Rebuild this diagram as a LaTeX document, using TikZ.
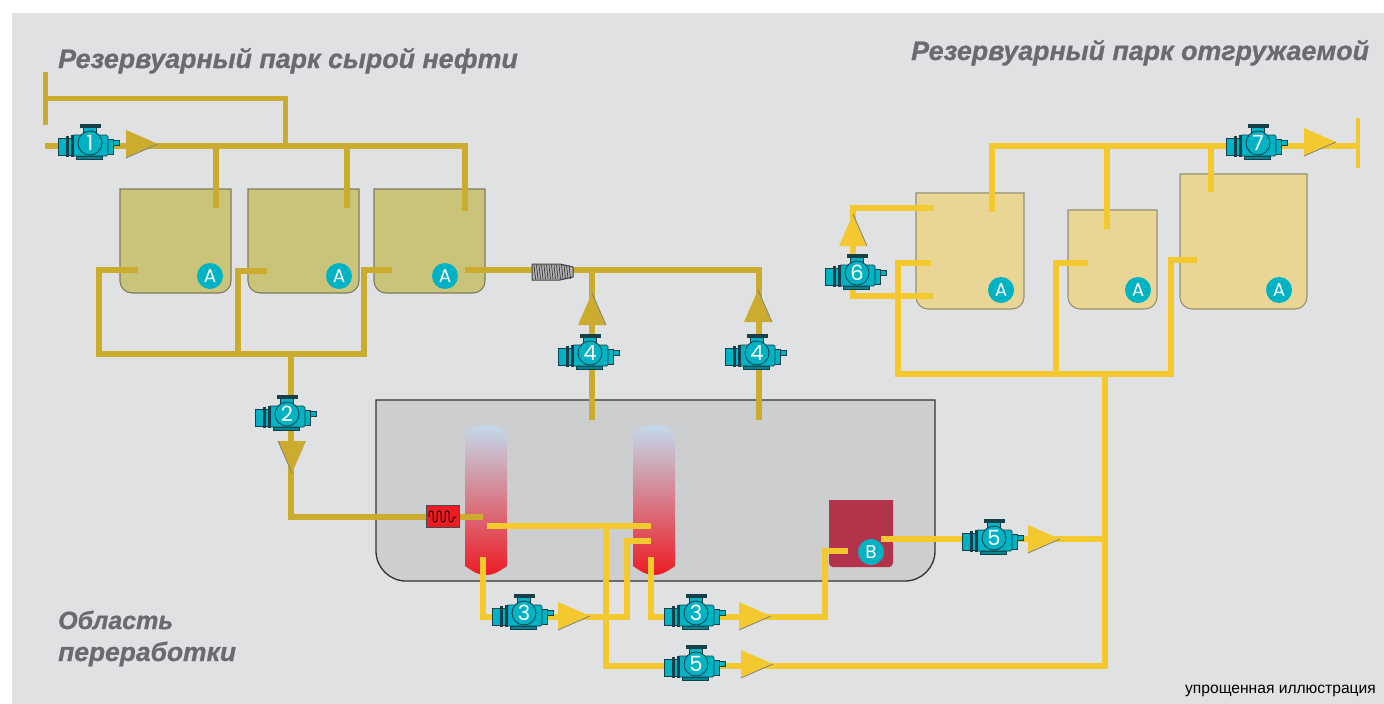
\documentclass[tikz,border=0pt]{standalone}
\usepackage{fontspec}
\setmainfont{Liberation Sans}
\newfontfamily\tagfont{Poppins}
\newfontfamily\titlefont[FakeBold=0.8]{Liberation Sans Bold Italic}
\usetikzlibrary{calc}
\definecolor{crude}{HTML}{CBAC2E}
\definecolor{product}{HTML}{F3C92F}
\definecolor{pumpfill}{HTML}{00B3C4}
\definecolor{pumpline}{HTML}{173F49}
\definecolor{titlegray}{HTML}{696B6E}
\definecolor{panel}{HTML}{E0E1E3}
\definecolor{unitfill}{HTML}{CDCED0}
\definecolor{crudefill}{HTML}{C9C47A}
\definecolor{crudeedge}{HTML}{7F7B60}
\definecolor{prodfill}{HTML}{E9D694}
\definecolor{prodedge}{HTML}{96906E}
\definecolor{residue}{HTML}{B3334A}
\definecolor{heat}{HTML}{EC1C24}
\definecolor{coltop}{HTML}{C3DAEC}
\definecolor{colmid}{HTML}{E38B70}
\tikzset{
    crudepipe/.style={draw=crude, line width=5.5pt},
    productpipe/.style={draw=product, line width=5.5pt},
    crudetank/.style={draw=crudeedge, fill=crudefill, line width=1.1pt},
    producttank/.style={draw=prodedge, fill=prodfill, line width=1.1pt},
    badge/.style={circle, fill=pumpfill, text=white, inner sep=0pt, minimum size=26pt, font=\tagfont\fontsize{18.5}{18.5}\selectfont},
    title/.style={anchor=base west, inner sep=0pt, align=left, text=titlegray, font=\titlefont\fontsize{26.8}{32}\selectfont},
    pumpbody/.style={draw=pumpline, fill=pumpfill, line width=.7pt},
    pump/.pic={
        \path[pumpbody] (-32,-5) rectangle (-18,12);
        \path[pumpbody, fill=pumpline] (-24,-7) rectangle (-22,13);
        \path[pumpbody] (17,-4) rectangle (23,11);
        \path[pumpbody] (23,-2.5) rectangle (29,2);
        \path[pumpbody, fill=pumpfill!75!black] (-14,13) rectangle (12,16);
        \path[pumpbody, rounded corners=1.5pt] (-18,-8) rectangle (18,13);
        \path[pumpbody, fill=pumpline] (-19,-8) rectangle (-16.5,13);
        \path[pumpbody] (-7,-16) rectangle (6,-10);
        \path[pumpbody, fill=pumpline] (-10,-18.5) rectangle (10,-16);
        \node[badge, draw=pumpline, line width=.8pt, minimum size=24pt, font=\tagfont\fontsize{21}{21}\selectfont] (-c) at (0,0) {#1};
    },
    flowtip/.pic={
        \fill[#1] (0,0) -- (-32,-14) -- (-32,14) -- cycle;
        \draw[gray, line width=.8pt] (0,0) -- (-32,14);
    },
}
\newcommand{\vessel}[6]{%
    \draw[#6] (#2,#3) -- (#4,#3) -- (#4,#5-12) arc[start angle=0, end angle=90, radius=12] -- (#2+12,#5) arc[start angle=90, end angle=180, radius=12] -- cycle;
    \coordinate (#1) at (#2,#3);
}
\newcommand{\column}[2]{%
    \shade[top color=coltop, middle color=colmid, bottom color=heat] (#1,566) -- (#1,436) arc[start angle=180, end angle=360, x radius=21, y radius=11] -- (#1+42,566) .. controls (#1+32,573) and (#1+28,575) .. (#1+21,575) .. controls (#1+14,575) and (#1+10,573) .. (#1,566) -- cycle;
    \coordinate (#2) at (#1,566);
}
\begin{document}
\begin{tikzpicture}[x=1pt, y=-1pt]
    \useasboundingbox (0,0) rectangle (1384,704);
    \fill[white] (0,0) rectangle (1384,704);
    \fill[panel] (12,13) rectangle (1384,704);

    \node[title] (crudetitle) at (58,68) {Резервуарный парк сырой нефти};
    \node[title] (shiptitle) at (911,60) {Резервуарный парк отгружаемой};
    \node[title, font=\titlefont\fontsize{25}{32}\selectfont] (proctitle1) at (58,629) {Область};
    \node[title, font=\titlefont\fontsize{26.4}{32}\selectfont] (proctitle2) at (58,661) {переработки};
    \node[anchor=base east, inner sep=0pt, font=\fontsize{15.6}{16}\selectfont] (note) at (1376,693) {упрощенная иллюстрация};

    % process unit
    \draw[fill=unitfill, draw=black!80, line width=1.3pt] (376,400) -- (935,400) -- (935,551) arc[start angle=0, end angle=90, radius=30] -- (406,581) arc[start angle=90, end angle=180, radius=30] -- cycle;
    \column{465}{col1}
    \column{633}{col2}
    \fill[residue] (829,500) -- (893,500) -- (893,563) arc[start angle=0, end angle=90, radius=4] -- (833,567) arc[start angle=90, end angle=180, radius=4] -- cycle;
    \coordinate (redbox) at (829,500);

    % tanks
    \vessel{tank1}{120}{189}{231}{293}{crudetank}
    \vessel{tank2}{248}{189}{359}{293}{crudetank}
    \vessel{tank3}{374}{189}{485}{293}{crudetank}
    \vessel{tank4}{916}{193}{1024}{309}{producttank}
    \vessel{tank5}{1068}{210}{1157}{309}{producttank}
    \vessel{tank6}{1180}{174}{1307}{309}{producttank}

    % crude side
    \coordinate (in) at (45,146);
    \coordinate (main) at (465,146);
    \coordinate (barT) at (45,72);
    \coordinate (barB) at (45,125);
    \coordinate (bypass) at (285,98);
    \draw[crudepipe, line width=5pt] (barT) -- (barB);
    \draw[crudepipe, line width=5pt] (barT |- bypass) -- (bypass) -- (bypass |- main);
    \draw[crudepipe] (in) -- (main) -- ++(0,65);
    \draw[crudepipe] (216,146) -- (216,208);
    \draw[crudepipe] (347,146) -- (347,208);

    \coordinate (header) at (291,354);
    \draw[crudepipe] (138,270) -| (99,354) -| (364,270) -- (392,270);
    \draw[crudepipe] (267,271) -| (238,354);
    \draw[crudepipe] (header |- 0,354) -- (header |- 0,517) -- (483,517);
    \draw[crudepipe] (465,270) -| (759,420);
    \draw[crudepipe] (592,270) -- (592,420);

    % product side
    \draw[productpipe] (487,526) -- (651,526);
    \draw[productpipe] (606,526) |- (1105,666);
    \draw[productpipe] (483,557) |- (627,617) |- (651,541);
    \draw[productpipe] (651,557) |- (825,617) |- (848,551);
    \draw[productpipe] (881,539) -- (1105,539);
    \draw[productpipe] (1105,374) -- (1105,669);
    \draw[productpipe] (931,263) -| (898,374) -- (1171,374) |- (1197,260);
    \draw[productpipe] (1088,263) -| (1056,374);
    \draw[productpipe] (933,296) -| (853,208) -- (934,208);
    \draw[productpipe] (992,212) |- (1358,146);
    \draw[productpipe] (1107,146) -- (1107,229);
    \draw[productpipe] (1211,146) -- (1211,192);
    \draw[productpipe, line width=3.5pt] (1358,118) -- (1358,168);

    % filter and heater
    \draw[black!75, fill=gray!60, line width=1pt] (532,264) -- (560,264) -- (573,267) -- (573,277) -- (560,280) -- (532,280) -- cycle;
    \foreach \fx in {534,536.5,...,571}
        \draw[black!80, line width=.7pt] (\fx,265) -- (\fx+1.5,279);
    \node[draw=black!70, fill=heat, minimum width=33pt, minimum height=22pt, inner sep=0pt, line width=1pt] (heater) at (442.5,516.5) {};
    \draw[black!80!red, line width=1pt, rounded corners=2pt] (429,517) |- (433,511) |- (437,522) |- (441,511) |- (445,522) |- (449,511) |- (453,522) |- (456,517);

    % badges
    \node[badge] (a1) at (210,276) {A};
    \node[badge] (a2) at (339,276) {A};
    \node[badge] (a3) at (445,276) {A};
    \node[badge] (a4) at (1001,290) {A};
    \node[badge] (a5) at (1138,290) {A};
    \node[badge] (a6) at (1279,290) {A};
    \node[badge] (b1) at (871,552) {B};

    % pumps
    \pic (p1) at (90,143) {pump=1};
    \pic (p2) at (287,414) {pump=2};
    \pic (p3a) at (524,613) {pump=3};
    \pic (p3b) at (696,613) {pump=3};
    \pic (p4a) at (590,353) {pump=4};
    \pic (p4b) at (757,353) {pump=4};
    \pic (p5a) at (994,538) {pump=5};
    \pic (p5b) at (696,664) {pump=5};
    \pic (p6) at (857,273) {pump=6};
    \pic (p7) at (1258,143) {pump=7};

    % flow arrows
    \pic at (158,144) {flowtip=crude};
    \pic[rotate=90] at (592,293) {flowtip=crude};
    \pic[rotate=90] at (758,290) {flowtip=crude};
    \pic[rotate=-90] at (292,473) {flowtip=crude};
    \pic at (590,616) {flowtip=product};
    \pic at (771,616) {flowtip=product};
    \pic at (1060,539) {flowtip=product};
    \pic at (773,664) {flowtip=product};
    \pic[rotate=90] at (853,214) {flowtip=product};
    \pic at (1336,142) {flowtip=product};
\end{tikzpicture}
\end{document}
